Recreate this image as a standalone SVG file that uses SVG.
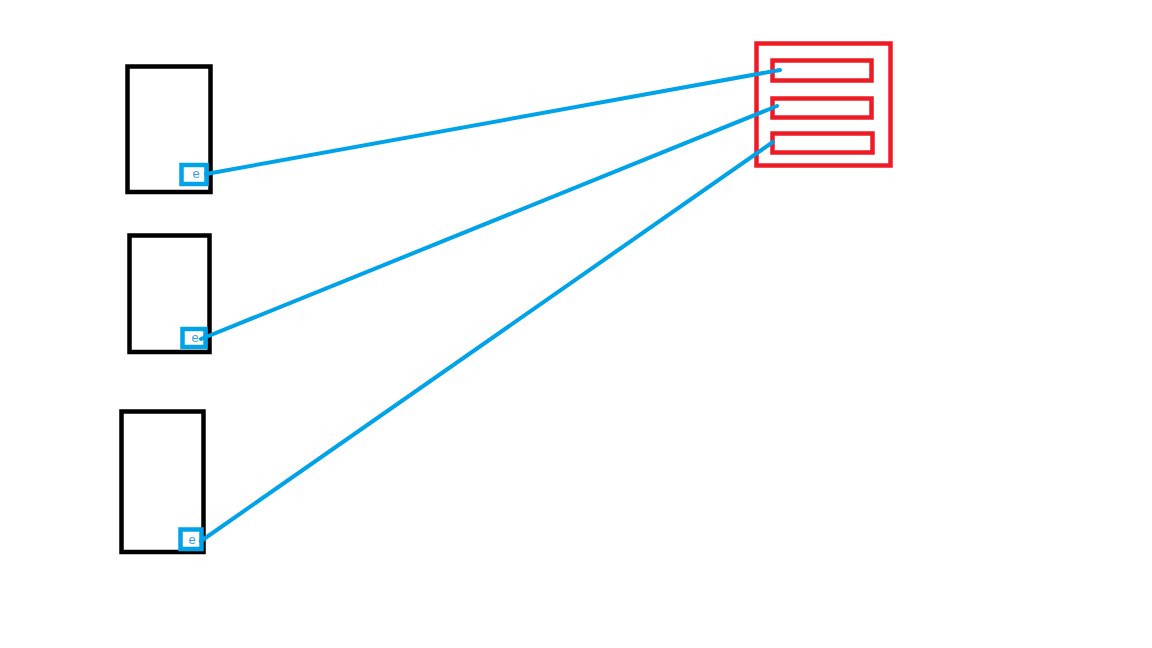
<svg xmlns="http://www.w3.org/2000/svg" width="1152" height="648" viewBox="0 0 1152 648">
<style>
.node{fill:none;stroke:#000;stroke-width:4.5}
.port{fill:#fff;stroke:#00a2e8;stroke-width:4.5}
.lbl{font-family:"Liberation Sans",Arial,sans-serif;font-size:13px;fill:#3a9ee8;text-anchor:middle}
.red{fill:none;stroke:#ed1c24;stroke-width:4.5}
.conn{stroke:#00a2e8;stroke-width:4;stroke-linecap:round;fill:none}
</style>
<rect width="1152" height="648" fill="#fff"/>
<g id="node1">
<rect class="node" x="127.5" y="66.5" width="83" height="125.5"/>
<rect class="port" x="181.5" y="165" width="25" height="19"/>
<text class="lbl" x="196" y="178">e</text>
</g>
<g id="node2">
<rect class="node" x="129.5" y="235.5" width="80" height="116.5"/>
<rect class="port" x="182.5" y="329" width="23" height="18"/>
<text class="lbl" x="195" y="342">e</text>
</g>
<g id="node3">
<rect class="node" x="121.5" y="411.5" width="82" height="140.5"/>
<rect class="port" x="180.5" y="529.5" width="21" height="19.5"/>
<text class="lbl" x="192" y="544">e</text>
</g>
<g id="target">
<rect class="red" x="756.5" y="43.5" width="134" height="122"/>
<rect class="red" x="772.5" y="60.5" width="99" height="20"/>
<rect class="red" x="772.5" y="98.5" width="99" height="19"/>
<rect class="red" x="772.5" y="133.5" width="100" height="19"/>
</g>
<g id="connectors">
<line class="conn" x1="206" y1="174" x2="780" y2="70"/>
<line class="conn" x1="201" y1="339" x2="777" y2="106"/>
<line class="conn" x1="201" y1="541" x2="773" y2="142"/>
</g>
</svg>
